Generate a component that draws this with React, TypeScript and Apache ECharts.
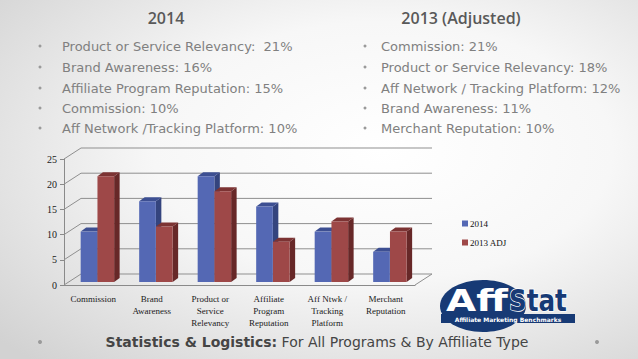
import React, { useEffect, useRef } from "react";
import * as echarts from "echarts";

const categories = [
  "Commission",
  "Brand\nAwareness",
  "Product or\nService\nRelevancy",
  "Affiliate\nProgram\nReputation",
  "Aff Ntwk /\nTracking\nPlatform",
  "Merchant\nReputation",
];
const values2014 = [10, 16, 21, 15, 10, 6];
const values2013 = [21, 11, 18, 8, 12, 10];
const yTicks = [0, 5, 10, 15, 20, 25];
const seriesNames = ["2014", "2013 ADJ"];

const header2014 = "2014";
const header2013 = "2013 (Adjusted)";
const list2014 = [
  "Product or Service Relevancy:  21%",
  "Brand Awareness: 16%",
  "Affiliate Program Reputation: 15%",
  "Commission: 10%",
  "Aff Network /Tracking Platform: 10%",
];
const list2013 = [
  "Commission: 21%",
  "Product or Service Relevancy: 18%",
  "Aff Network / Tracking Platform: 12%",
  "Brand Awareness: 11%",
  "Merchant Reputation: 10%",
];
const footerBold = "Statistics & Logistics:";
const footerRest = " For All Programs & By Affiliate Type";

const WALL_DX = 17;
const WALL_DY = 11;
const BAR_DX = 5.5;
const BAR_DY = 4;

const colors = [
  { front: "#5468b4", top: "#3d4f92", side: "#34447e" },
  { front: "#9e4848", top: "#7c3333", side: "#672828" },
];

function makeBarRender(idx: number) {
  return (params: any, api: any) => {
    const cat = api.value(0);
    const v = api.value(1);
    const c = api.coord([cat, v]);
    const c0 = api.coord([cat, 0]);
    const bw = api.size([1, 0])[0];
    const w = bw * 0.285;
    const x = idx === 0 ? c[0] - bw * 0.215 : c[0] + bw * 0.072;
    const top = c[1] - 3;
    const bottom = c0[1] - 3;
    const col = colors[idx];
    return {
      type: "group",
      children: [
        {
          type: "polygon",
          shape: {
            points: [
              [x + w, top],
              [x + w + BAR_DX, top - BAR_DY],
              [x + w + BAR_DX, bottom - BAR_DY],
              [x + w, bottom],
            ],
          },
          style: { fill: col.side },
        },
        {
          type: "polygon",
          shape: {
            points: [
              [x, top],
              [x + BAR_DX, top - BAR_DY],
              [x + w + BAR_DX, top - BAR_DY],
              [x + w, top],
            ],
          },
          style: { fill: col.top },
        },
        {
          type: "rect",
          shape: { x, y: top, width: w, height: bottom - top },
          style: { fill: col.front },
        },
      ],
    };
  };
}

function wallRender(params: any, api: any) {
  const v = api.value(1);
  const bw = api.size([1, 0])[0];
  const l = api.coord([0, v]);
  const r = api.coord([categories.length - 1, v]);
  const xl = l[0] - bw / 2;
  const xr = r[0] + bw / 2;
  const y = l[1];
  const pts: number[][] = [
    [xl, y],
    [xl + WALL_DX, y - WALL_DY],
    [xr + WALL_DX, y - WALL_DY],
  ];
  if (v === 0) pts.push([xr, y]);
  return {
    type: "polyline",
    shape: { points: pts },
    style: { stroke: "#8f8f8f", lineWidth: 1, fill: "none" },
  };
}

export default function App() {
  const ref = useRef<HTMLDivElement>(null);
  useEffect(() => {
    if (!ref.current) return;
    const chart = echarts.init(ref.current, null, { renderer: "svg" });
    const textFont = "'DejaVu Sans', sans-serif";
    const graphics: any[] = [];
    graphics.push({
      type: "text",
      x: 166,
      y: 18,
      style: {
        text: header2014,
        fill: "#595959",
        font: "600 16px 'Open Sans', sans-serif",
        align: "center",
        verticalAlign: "middle",
      },
    });
    graphics.push({
      type: "text",
      x: 461,
      y: 18,
      style: {
        text: header2013,
        fill: "#595959",
        font: "600 16px 'Open Sans', sans-serif",
        align: "center",
        verticalAlign: "middle",
      },
    });
    const rowsY = [46, 67, 88, 108, 128];
    list2014.forEach((t, i) => {
      graphics.push({
        type: "circle",
        shape: { cx: 40, cy: rowsY[i], r: 1.5 },
        style: { fill: "#9a9a9a" },
      });
      graphics.push({
        type: "text",
        x: 62,
        y: rowsY[i],
        style: {
          text: t,
          fill: "#808080",
          font: "13px " + textFont,
          verticalAlign: "middle",
        },
      });
    });
    list2013.forEach((t, i) => {
      graphics.push({
        type: "circle",
        shape: { cx: 365, cy: rowsY[i], r: 1.5 },
        style: { fill: "#9a9a9a" },
      });
      graphics.push({
        type: "text",
        x: 381,
        y: rowsY[i],
        style: {
          text: t,
          fill: "#808080",
          font: "13px " + textFont,
          verticalAlign: "middle",
        },
      });
    });
    // footer
    graphics.push({
      type: "text",
      x: 317,
      y: 342,
      style: {
        text: "{b|" + footerBold + "}{n|" + footerRest + "}",
        align: "center",
        verticalAlign: "middle",
        rich: {
          b: { font: "bold 14px " + textFont, fill: "#454545" },
          n: { font: "14px " + textFont, fill: "#454545" },
        },
      },
    });
    graphics.push({
      type: "circle",
      shape: { cx: 40, cy: 342, r: 2 },
      style: { fill: "#9a9a9a" },
    });
    graphics.push({
      type: "circle",
      shape: { cx: 597, cy: 342, r: 2 },
      style: { fill: "#9a9a9a" },
    });
    // logo
    graphics.push({
      type: "ellipse",
      shape: { cx: 483, cy: 306, rx: 43, ry: 26 },
      style: { fill: "#173a75" },
    });
    graphics.push({
      type: "rect",
      shape: { x: 441, y: 314, width: 134, height: 9 },
      style: { fill: "#173a75" },
    });
    graphics.push({
      type: "text",
      x: 446,
      y: 301,
      scaleX: 1.3,
      style: {
        text: "Aff",
        fill: "#ffffff",
        font: "bold 30px 'DejaVu Sans', sans-serif",
        verticalAlign: "middle",
      },
    });
    graphics.push({
      type: "text",
      x: 509,
      y: 301,
      scaleX: 0.82,
      style: {
        text: "Stat",
        fill: "#173a75",
        stroke: "#ffffff",
        lineWidth: 1.5,
        font: "bold 30px 'DejaVu Sans', sans-serif",
        verticalAlign: "middle",
      },
    });
    graphics.push({
      type: "text",
      x: 508,
      y: 319,
      style: {
        text: "Affiliate Marketing Benchmarks",
        fill: "#ffffff",
        font: "bold 6px 'DejaVu Sans', sans-serif",
        align: "center",
        verticalAlign: "middle",
      },
    });

    const option: any = {
      animation: false,
      backgroundColor: {
        type: "radial",
        x: 0.6,
        y: 0.42,
        r: 0.8,
        colorStops: [
          { offset: 0, color: "#ffffff" },
          { offset: 0.45, color: "#f7f7f7" },
          { offset: 1, color: "#d2d2d2" },
        ],
      },
      grid: { left: 64, right: 223, top: 159, bottom: 74 },
      legend: {
        data: seriesNames,
        orient: "vertical",
        left: 457,
        top: 214,
        itemWidth: 6,
        itemHeight: 6,
        itemGap: 10,
        icon: "rect",
        textStyle: {
          fontFamily: "'Liberation Serif', serif",
          fontSize: 9,
          color: "#111",
          padding: [0, 0, 0, -3],
        },
      },
      xAxis: {
        type: "category",
        data: categories,
        axisLine: { lineStyle: { color: "#8a8a8a" } },
        axisTick: { length: 4, lineStyle: { color: "#8a8a8a" } },
        axisLabel: {
          interval: 0,
          fontFamily: "'Liberation Serif', serif",
          fontSize: 9,
          lineHeight: 12,
          color: "#1a1a1a",
          margin: 8,
        },
      },
      yAxis: {
        type: "value",
        min: 0,
        max: 25,
        interval: 5,
        axisLine: { show: true, lineStyle: { color: "#8a8a8a" } },
        axisTick: { show: true, length: 4, lineStyle: { color: "#8a8a8a" } },
        splitLine: { show: false },
        axisLabel: {
          fontFamily: "'Liberation Serif', serif",
          fontSize: 10,
          color: "#1a1a1a",
          margin: 7,
        },
      },
      series: [
        {
          type: "custom",
          name: "walls",
          renderItem: wallRender,
          data: yTicks.map((v) => [0, v]),
          clip: false,
          silent: true,
          z: 1,
        },
        {
          type: "custom",
          name: seriesNames[0],
          renderItem: makeBarRender(0),
          data: values2014.map((v, i) => [i, v]),
          itemStyle: { color: colors[0].front },
          clip: false,
          z: 2,
        },
        {
          type: "custom",
          name: seriesNames[1],
          renderItem: makeBarRender(1),
          data: values2013.map((v, i) => [i, v]),
          itemStyle: { color: colors[1].front },
          clip: false,
          z: 3,
        },
      ],
      graphic: graphics,
    };
    chart.setOption(option);
    return () => chart.dispose();
  }, []);
  return (
    <div
      ref={ref}
      style={{ position: "absolute", left: 0, top: 0, width: 638, height: 359 }}
    />
  );
}
